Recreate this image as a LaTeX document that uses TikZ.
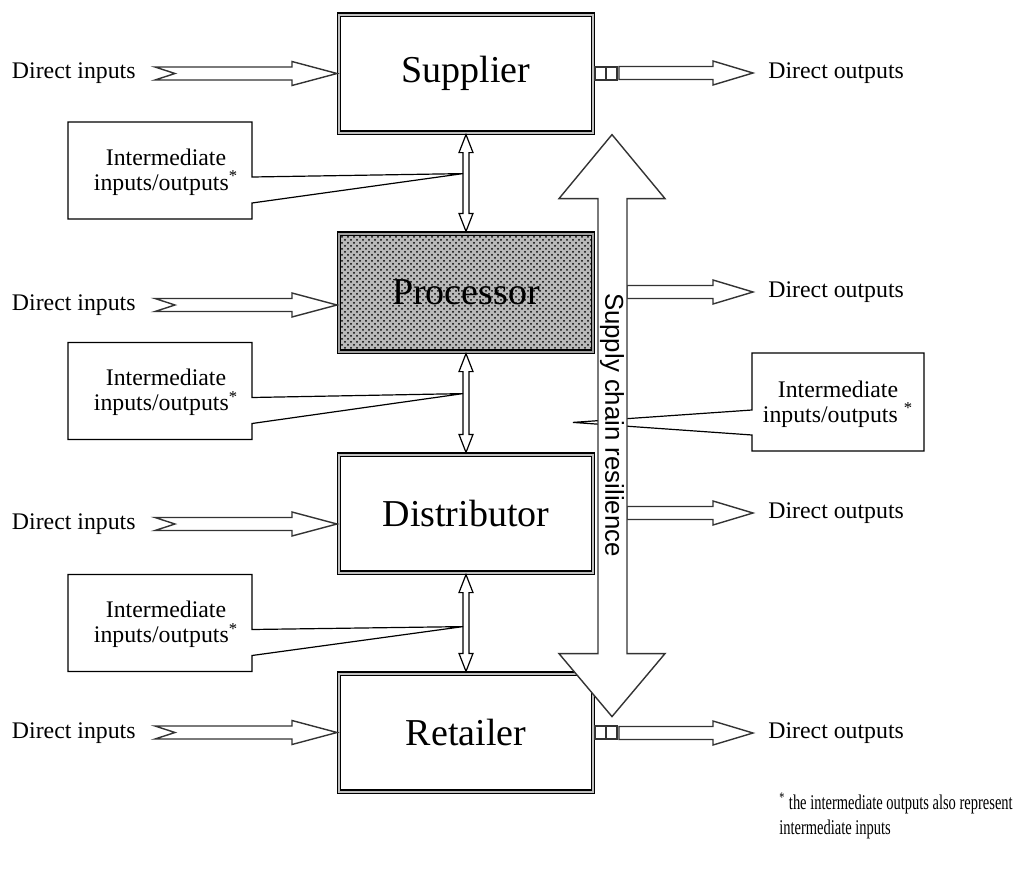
\documentclass[tikz,border=0pt]{standalone}
\usepackage{fontspec}
\setmainfont{Liberation Serif}
\setsansfont{Liberation Sans}
\newfontfamily\narrowfont{Liberation Serif}[FakeStretch=0.69]
\usetikzlibrary{calc,patterns}

\begin{document}
\begin{tikzpicture}[x=0.5pt,y=-0.5pt,
  unit/.style={draw,double=gray!50,double distance=1pt,line width=0.55pt,minimum width=126.9pt,minimum height=59pt,outer sep=1.05pt,inner sep=0pt,font=\fontsize{19}{22}\selectfont},
  proc/.style={unit,double=gray!75,preaction={fill=gray!55},pattern=crosshatch dots},
  blk/.style={draw=black!80,line width=0.7pt,fill=white},
  lnk/.style={draw,line width=0.6pt,fill=white},
  cbox/.style={draw,line width=0.6pt},
  lbl/.style={font=\fontsize{11.9}{14.5}\selectfont,inner sep=2pt},
  tag/.style={lbl,align=center,font=\fontsize{11.9}{12.6}\selectfont},
  sans/.style={font=\sffamily\fontsize{12.9}{15}\selectfont}]
\useasboundingbox (0,0) rectangle (1014,879);
\node[unit] (s) at (466,73.5) {Supplier};
\node[proc] (p) at (466,292.5) {Processor};
\node[unit] (d) at (466,513.5) {Distributor};
\node[unit] (r) at (466,732.5) {Retailer};
\node[lbl,anchor=east] (i1) at (140,73) {Direct inputs};
\node[lbl,anchor=east] (i2) at (140,305) {Direct inputs};
\node[lbl,anchor=east] (i3) at (140,524) {Direct inputs};
\node[lbl,anchor=east] (i4) at (140,733) {Direct inputs};
\node[lbl,anchor=west] (o1) at (764,73) {Direct outputs};
\node[lbl,anchor=west] (o2) at (764,292) {Direct outputs};
\node[lbl,anchor=west] (o3) at (764,513) {Direct outputs};
\node[lbl,anchor=west] (o4) at (764,733) {Direct outputs};
\node[tag] (c1) at (166,172) {Intermediate\\inputs/outputs\textsuperscript{*}};
\node[tag] (c2) at (166,392.5) {Intermediate\\inputs/outputs\textsuperscript{*}};
\node[tag] (c3) at (166,624.5) {Intermediate\\inputs/outputs\textsuperscript{*}};
\node[tag] (c4) at (838,404) {Intermediate\\inputs/outputs \textsuperscript{*}};
\node[lbl,anchor=north west,align=left,font=\narrowfont\fontsize{10.5}{12.5}\selectfont] (fn) at (775,788)
  {\textsuperscript{*}\,the intermediate outputs also represent\\intermediate inputs};
\coordinate (t1) at ($(s.south)+(-3,39)$);
\coordinate (t2) at ($(p.south)+(-3,40)$);
\coordinate (t3) at ($(d.south)+(-3,52)$);
\coordinate (t4) at ($(d.north east)+(-22,-30)$);
\coordinate (up) at ($(s.south east)+(17,0)$);

\draw[blk] (s.west) -- ++(-45,-12) -- ++(0,5.5) -- ++(-137,0) -- ++(20,6.5) -- ++(-20,6.5) -- ++(137,0) -- ++(0,5.5) -- cycle;
\draw[blk] ($(p.west)+(0,12.5)$) -- ++(-45,-12) -- ++(0,5.5) -- ++(-137,0) -- ++(20,6.5) -- ++(-20,6.5) -- ++(137,0) -- ++(0,5.5) -- cycle;
\draw[blk] ($(d.west)+(0,10.5)$) -- ++(-45,-12) -- ++(0,5.5) -- ++(-137,0) -- ++(20,6.5) -- ++(-20,6.5) -- ++(137,0) -- ++(0,5.5) -- cycle;
\draw[blk] (r.west) -- ++(-45,-12) -- ++(0,5.5) -- ++(-137,0) -- ++(20,6.5) -- ++(-20,6.5) -- ++(137,0) -- ++(0,5.5) -- cycle;

\draw[blk] ($(s.east)+(0,-6.5)$) rectangle ++(11,13) ($(s.east)+(11,-6.5)$) rectangle ++(11,13);
\draw[blk] ($(r.east)+(0,-6.5)$) rectangle ++(11,13) ($(r.east)+(11,-6.5)$) rectangle ++(11,13);
\draw[blk] ($(o1.west)+(-11,0)$) -- ++(-40,-12) -- ++(0,5.5) -- ++(-94,0) -- ++(0,13) -- ++(94,0) -- ++(0,5.5) -- cycle;
\draw[blk] ($(o2.west)+(-11,0)$) -- ++(-40,-12) -- ++(0,5.5) -- ++(-86,0) -- ++(0,13) -- ++(86,0) -- ++(0,5.5) -- cycle;
\draw[blk] ($(o3.west)+(-11,0)$) -- ++(-40,-12) -- ++(0,5.5) -- ++(-86,0) -- ++(0,13) -- ++(86,0) -- ++(0,5.5) -- cycle;
\draw[blk] ($(o4.west)+(-11,0)$) -- ++(-40,-12) -- ++(0,5.5) -- ++(-94,0) -- ++(0,13) -- ++(94,0) -- ++(0,5.5) -- cycle;

\draw[lnk] (s.south) -- ++(-7,18) -- ++(4,0) |- ($(p.north)+(-3,-18)$) -- ++(-4,0) -- (p.north)
  -- ++(7,-18) -- ++(-4,0) |- ($(s.south)+(3,18)$) -- ++(4,0) -- cycle;
\draw[lnk] (p.south) -- ++(-7,18) -- ++(4,0) |- ($(d.north)+(-3,-18)$) -- ++(-4,0) -- (d.north)
  -- ++(7,-18) -- ++(-4,0) |- ($(p.south)+(3,18)$) -- ++(4,0) -- cycle;
\draw[lnk] (d.south) -- ++(-7,18) -- ++(4,0) |- ($(r.north)+(-3,-18)$) -- ++(-4,0) -- (r.north)
  -- ++(7,-18) -- ++(-4,0) |- ($(d.south)+(3,18)$) -- ++(4,0) -- cycle;

\draw[cbox] ($(c1)+(86,-50)$) -- ++(-184,0) -- ++(0,97) -- ++(184,0) -- ++(0,-16) -- (t1) -- ($(c1)+(86,5)$) -- cycle;
\draw[cbox] ($(c2)+(86,-50)$) -- ++(-184,0) -- ++(0,97) -- ++(184,0) -- ++(0,-16) -- (t2) -- ($(c2)+(86,5)$) -- cycle;
\draw[cbox] ($(c3)+(86,-50)$) -- ++(-184,0) -- ++(0,97) -- ++(184,0) -- ++(0,-16) -- (t3) -- ($(c3)+(86,5)$) -- cycle;
\draw[cbox] ($(c4)+(-86,-51)$) -- ++(172,0) -- ++(0,98) -- ++(-172,0) -- ++(0,-16) -- (t4) -- ($(c4)+(-86,6)$) -- cycle;

\draw[blk] (up) -- ++(53,64) -- ++(-38,0) -- ++(0,455) -- ++(38,0) -- ++(-53,63) -- ++(-53,-63)
  -- ++(39,0) -- ++(0,-455) -- ++(-39,0) -- cycle;
\node[sans,rotate=-90] (scr) at (612,425) {Supply chain resilience};
\end{tikzpicture}
\end{document}
